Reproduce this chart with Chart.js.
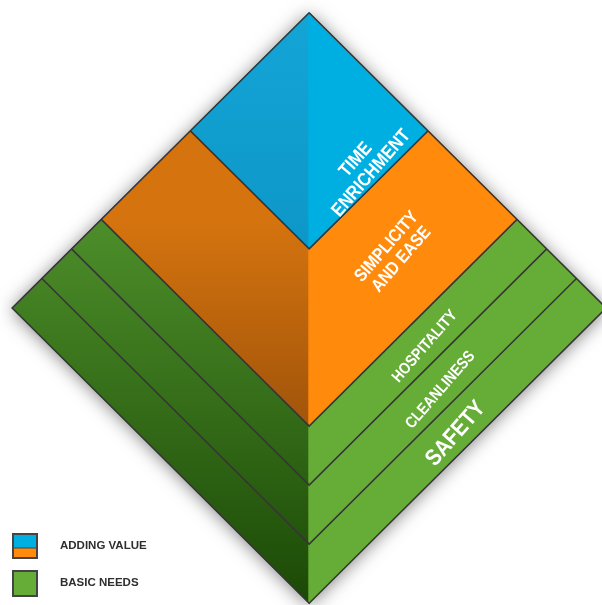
<!DOCTYPE html>
<html>
<head>
<meta charset="utf-8">
<script src="https://cdn.jsdelivr.net/npm/chart.js@4.4.1/dist/chart.umd.min.js"></script>
<style>
  html, body { margin: 0; padding: 0; background: #fff; }
  #wrap { position: relative; width: 602px; height: 605px; }
</style>
</head>
<body>
<div id="wrap"><canvas id="pyramid"></canvas></div>
<script>
// tiers from the apex down; level = depth of the tier's lower edge (apex 0, base 100)
const tierNames = [["TIME", "ENRICHMENT"], ["SIMPLICITY", "AND EASE"], ["HOSPITALITY"], ["CLEANLINESS"], ["SAFETY"]];
const tierLevels = [40, 70, 80, 90, 100];
const legendLabels = ["ADDING VALUE", "BASIC NEEDS"];

const COLORS = {
  blue:   { right: '#00afe1', top: '#13a5d6', bottom: '#0d97c8', from: 0,  to: 40 },
  orange: { right: '#ff8a0c', top: '#d5740f', bottom: '#a1540a', from: 35, to: 70 },
  green:  { right: '#66ad37', top: '#4d8e2a', bottom: '#1b4906', from: 35, to: 100 },
  edge: '#363636'
};
const tierPalette = [COLORS.blue, COLORS.orange, COLORS.green, COLORS.green, COLORS.green];
const labelSizes = [19, 18, 16, 16, 23];

function leftGradient(pal) {
  return (ctx) => {
    const chart = ctx.chart;
    if (!chart.chartArea) return pal.top;
    const y = chart.scales.y;
    const g = chart.ctx.createLinearGradient(0, y.getPixelForValue(pal.from), 0, y.getPixelForValue(pal.to));
    g.addColorStop(0, pal.top);
    g.addColorStop(1, pal.bottom);
    return g;
  };
}

// one face of a tier: side = 1 right, -1 left
function face(a, b, side) {
  return [
    { x: 0, y: a }, { x: 0, y: b },
    { x: side * b / 2, y: b / 2 }, { x: side * a / 2, y: a / 2 },
    { x: 0, y: a }
  ];
}

const base = tierLevels[tierLevels.length - 1];
const datasets = [];

tierLevels.forEach((b, i) => {
  const a = i > 0 ? tierLevels[i - 1] : 0;
  const pal = tierPalette[i];
  const leftFill = leftGradient(pal);
  datasets.push({
    data: face(a, b, 1), order: 3, fill: 'shape',
    backgroundColor: pal.right, borderColor: pal.right, borderWidth: 1
  });
  datasets.push({
    data: face(a, b, -1), order: 3, fill: 'shape',
    backgroundColor: leftFill, borderColor: leftFill, borderWidth: 1
  });
});

// boundary chevrons between tiers
tierLevels.slice(0, -1).forEach(L => {
  datasets.push({
    data: [{ x: -L / 2, y: L / 2 }, { x: 0, y: L }, { x: L / 2, y: L / 2 }],
    order: 1, fill: false, borderColor: COLORS.edge, borderWidth: 1.6
  });
});

// outer outline
const outline = [{ x: 0, y: 0 }, { x: base / 2, y: base / 2 }, { x: 0, y: base }, { x: -base / 2, y: base / 2 }, { x: 0, y: 0 }];
datasets.push({ data: outline, order: 1, fill: false, borderColor: COLORS.edge, borderWidth: 1.6 });

const shadowPlugin = {
  id: 'shadow',
  beforeDatasetsDraw(chart) {
    const { ctx, scales: { x, y } } = chart;
    ctx.save();
    ctx.shadowColor = 'rgba(0,0,0,0.5)';
    ctx.shadowBlur = 18;
    ctx.shadowOffsetX = 0;
    ctx.shadowOffsetY = 2;
    ctx.fillStyle = '#555';
    ctx.beginPath();
    outline.forEach((p, k) => {
      const px = x.getPixelForValue(p.x), py = y.getPixelForValue(p.y);
      if (k === 0) ctx.moveTo(px, py); else ctx.lineTo(px, py);
    });
    ctx.closePath();
    ctx.fill();
    ctx.restore();
  }
};

const labelPlugin = {
  id: 'tierLabels',
  afterDatasetsDraw(chart) {
    const { ctx, scales: { x, y } } = chart;
    tierLevels.forEach((b, i) => {
      const a = i > 0 ? tierLevels[i - 1] : 0;
      const m = i === 0 ? b * 0.88 : (a + b) / 2;
      const lx = 0.26 * m;
      const ly = m - lx + (i >= 2 ? 1 : 0);
      const size = labelSizes[i];
      const lines = tierNames[i];
      ctx.save();
      ctx.translate(x.getPixelForValue(lx), y.getPixelForValue(ly));
      ctx.rotate(-49 * Math.PI / 180);
      ctx.scale(0.86, 1);
      ctx.fillStyle = '#ffffff';
      ctx.font = `bold ${size}px "Liberation Sans", Arial, sans-serif`;
      ctx.textAlign = 'center';
      ctx.textBaseline = 'middle';
      const lh = size * 1.08;
      lines.forEach((t, k) => {
        ctx.fillText(t, 0, (k - (lines.length - 1) / 2) * lh);
      });
      ctx.restore();
    });
  }
};

const legendPlugin = {
  id: 'keyBoxes',
  afterDraw(chart) {
    const ctx = chart.ctx;
    ctx.save();
    // adding value box (blue over orange)
    ctx.fillStyle = COLORS.blue.right;
    ctx.fillRect(13, 534, 24, 14);
    ctx.fillStyle = COLORS.orange.right;
    ctx.fillRect(13, 548, 24, 10);
    ctx.strokeStyle = '#444';
    ctx.lineWidth = 2;
    ctx.strokeRect(13, 534, 24, 24);
    ctx.beginPath();
    ctx.moveTo(13, 548); ctx.lineTo(37, 548);
    ctx.lineWidth = 1;
    ctx.stroke();
    // basic needs box
    ctx.fillStyle = COLORS.green.right;
    ctx.fillRect(13, 571, 24, 25);
    ctx.lineWidth = 2;
    ctx.strokeRect(13, 571, 24, 25);

    ctx.fillStyle = '#2e2e2e';
    ctx.font = 'bold 11.5px "Liberation Sans", Arial, sans-serif';
    ctx.textBaseline = 'middle';
    ctx.textAlign = 'left';
    ctx.fillText(legendLabels[0], 60, 546);
    ctx.fillText(legendLabels[1], 60, 583);
    ctx.restore();
  }
};

new Chart(document.getElementById('pyramid'), {
  type: 'line',
  data: { datasets },
  options: {
    responsive: true,
    maintainAspectRatio: false,
    animation: false,
    events: [],
    layout: { padding: { left: 8, top: 8, right: 0, bottom: 0 } },
    elements: {
      point: { radius: 0, hitRadius: 0 },
      line: { tension: 0, borderJoinStyle: 'miter', capBezierPoints: false }
    },
    datasets: { line: { clip: false } },
    scales: {
      x: { type: 'linear', min: -50.7, max: 49.3, display: false },
      y: { type: 'linear', min: -0.8, max: 100.3, reverse: true, display: false }
    },
    plugins: {
      legend: { display: false },
      tooltip: { enabled: false }
    }
  },
  plugins: [shadowPlugin, labelPlugin, legendPlugin]
});
</script>
</body>
</html>
